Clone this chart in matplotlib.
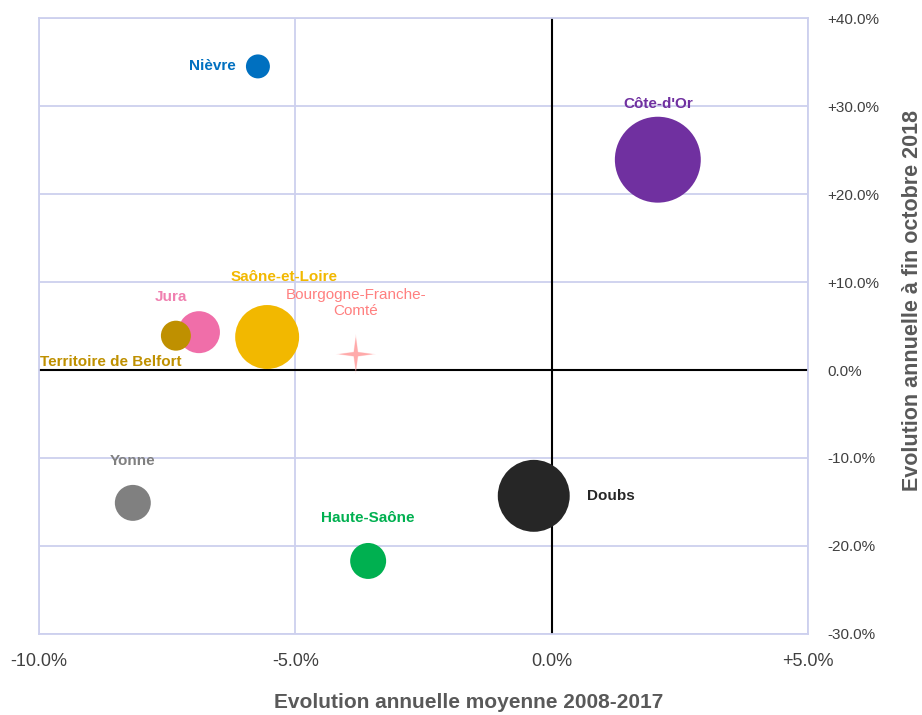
import matplotlib.pyplot as plt
from matplotlib.path import Path
from matplotlib.ticker import FuncFormatter

plt.rcParams['font.family'] = ['Liberation Sans', 'DejaVu Sans']

# departements: x = evolution annuelle moyenne 2008-2017, y = evolution a fin octobre 2018 (%)
names = ['Nièvre', "Côte-d'Or", 'Jura', 'Territoire de Belfort', 'Saône-et-Loire',
         'Yonne', 'Haute-Saône', 'Doubs']
x_vals = [-5.73, 2.07, -6.88, -7.33, -5.55, -8.17, -3.58, -0.35]
y_vals = [34.5, 23.9, 4.3, 3.9, 3.75, -15.1, -21.7, -14.3]
bubble = [144, 1849, 441, 225, 1024, 324, 324, 1296]
colors = ['#0070c0', '#7030a0', '#f06ea9', '#bf9000', '#f2b800',
          '#808080', '#00b050', '#262626']
label_colors = ['#0070c0', '#7030a0', '#f080b0', '#bf9000', '#f2b800',
                '#808080', '#00b050', '#262626']

# region
region_name = 'Bourgogne-Franche-\nComté'
region_x = -3.82
region_y = 1.8

fig = plt.figure(figsize=(9.22, 7.15), dpi=100)
ax = fig.add_axes([0.0423, 0.1133, 0.8341, 0.8615])

# bubble area proportional to value
sizes = [b * 2.07 for b in bubble]
ax.scatter(x_vals, y_vals, s=sizes, c=colors, edgecolors='none', zorder=3)

# four-point star for the region
star = Path([(0, 1), (0.12, 0.12), (1, 0), (0.12, -0.12), (0, -1),
             (-0.12, -0.12), (-1, 0), (-0.12, 0.12), (0, 1)],
            [Path.MOVETO] + [Path.LINETO] * 7 + [Path.CLOSEPOLY])
ax.scatter([region_x], [region_y], marker=star, s=850, c='#ffb0b0', alpha=0.35,
           edgecolors='none', zorder=3)
ax.scatter([region_x], [region_y], marker=star, s=600, c='#ffaaaa',
           edgecolors='none', zorder=4)

# labels (offsets in points)
offsets = [(-16, 0, 'right', 'center'), (0, 35, 'center', 'bottom'),
           (-20, 20, 'center', 'bottom'), (-98, -19, 'left', 'center'),
           (12, 38, 'center', 'bottom'), (0, 25, 'center', 'bottom'),
           (0, 26, 'center', 'bottom'), (38, 0, 'left', 'center')]
for n, xv, yv, lc, (dx, dy, ha, va) in zip(names, x_vals, y_vals, label_colors, offsets):
    ax.annotate(n, (xv, yv), xytext=(dx, dy), textcoords='offset points',
                ha=ha, va=va, fontsize=11, fontweight='bold', color=lc, zorder=5)
ax.annotate(region_name, (region_x, region_y), xytext=(0, 37), textcoords='offset points',
            ha='center', va='center', fontsize=11, color='#ff8080', zorder=5,
            linespacing=1.2)

ax.set_xlim(-10, 5)
ax.set_ylim(-30, 40)
ax.set_xticks([-10, -5, 0, 5])
ax.set_yticks(range(-30, 41, 10))

def fmt(v, pos):
    if abs(v) < 1e-9:
        return '0.0%'
    return f'{v:+.1f}%'

ax.xaxis.set_major_formatter(FuncFormatter(fmt))
ax.yaxis.set_major_formatter(FuncFormatter(fmt))
ax.yaxis.tick_right()
ax.tick_params(axis='both', length=0, labelcolor='#404040')
ax.tick_params(axis='x', pad=14, labelsize=13)
ax.tick_params(axis='y', pad=14, labelsize=11)

ax.grid(True, color='#cdd0ee', linewidth=1.3, zorder=0)
ax.set_axisbelow(True)
for sp in ax.spines.values():
    sp.set_color('#cdd0ee')
    sp.set_linewidth(1.3)
ax.axhline(0, color='black', linewidth=1.5, zorder=2)
ax.axvline(0, color='black', linewidth=1.5, zorder=2)

fig.text(0.508, 0.004, 'Evolution annuelle moyenne 2008-2017', ha='center', va='bottom',
         fontsize=15, fontweight='bold', color='#595959')
fig.text(0.99, 0.58, 'Evolution annuelle à fin octobre 2018', ha='center', va='center',
         rotation=90, fontsize=15.5, fontweight='bold', color='#595959')

fig.savefig('out.png', dpi=100)
